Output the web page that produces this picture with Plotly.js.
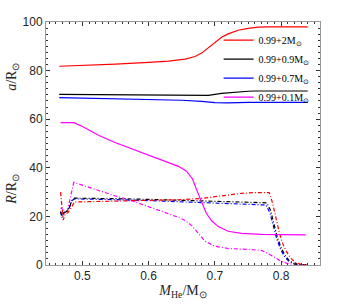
<!DOCTYPE html>
<html><head><meta charset="utf-8">
<script src="https://cdn.plot.ly/plotly-3.0.1.min.js"></script>
<style>html,body{margin:0;padding:0;background:#fff}#c{width:354px;height:304px}</style>
</head><body><div id="c"></div>
<script>
// Legend labels
const labels = ['0.99+2M<sub>⊙</sub>', '0.99+0.9M<sub>⊙</sub>', '0.99+0.7M<sub>⊙</sub>', '0.99+0.1M<sub>⊙</sub>'];
const colors = ['#ff0000', '#000000', '#0000ff', '#ff00ff'];

// Orbital separation a (solid lines)
const aRedX = [0.465, 0.50, 0.55, 0.60, 0.63, 0.655, 0.67, 0.68, 0.69, 0.70, 0.71, 0.72, 0.735, 0.75, 0.765, 0.78, 0.84];
const aRedY = [81.8, 82.1, 82.7, 83.4, 83.9, 84.7, 85.8, 87.2, 89.4, 91.8, 93.7, 95.1, 96.6, 97.4, 97.9, 98.0, 98.0];
const aBlackX = [0.465, 0.55, 0.65, 0.69, 0.71, 0.73, 0.75, 0.76, 0.84];
const aBlackY = [70.2, 70.0, 69.8, 69.8, 70.6, 71.2, 71.5, 71.6, 71.6];
const aBlueX = [0.465, 0.55, 0.65, 0.68, 0.70, 0.72, 0.75, 0.84];
const aBlueY = [68.9, 68.4, 67.8, 67.3, 66.8, 66.7, 66.9, 66.9];
const aMagX = [0.467, 0.487, 0.50, 0.525, 0.55, 0.575, 0.60, 0.625, 0.645, 0.657, 0.666, 0.673, 0.68, 0.687, 0.695, 0.705, 0.72, 0.74, 0.77, 0.837];
const aMagY = [58.6, 58.6, 57.0, 53.3, 50.3, 47.8, 45.4, 42.9, 40.6, 38.6, 35.5, 30.5, 25.5, 21.3, 18.2, 15.8, 13.9, 13.0, 12.6, 12.4];

// Radius R (dash-dot lines)
const rRedX = [0.467, 0.469, 0.471, 0.474, 0.478, 0.483, 0.488, 0.50, 0.55, 0.60, 0.65, 0.68, 0.70, 0.72, 0.74, 0.76, 0.775, 0.782, 0.787, 0.792, 0.797, 0.802, 0.808, 0.815, 0.822, 0.83, 0.84];
const rRedY = [30.0, 25.0, 18.5, 21.0, 21.5, 23.5, 26.0, 26.0, 26.3, 26.6, 26.9, 27.4, 28.1, 28.9, 29.5, 29.8, 29.9, 29.8, 25.5, 19.0, 13.5, 9.0, 5.5, 2.6, 1.0, 0.3, 0.0];
const rBlackX = [0.467, 0.469, 0.472, 0.476, 0.480, 0.484, 0.488, 0.50, 0.55, 0.60, 0.65, 0.70, 0.74, 0.778, 0.784, 0.789, 0.794, 0.80, 0.806, 0.812, 0.82, 0.83, 0.84];
const rBlackY = [22.0, 20.0, 21.5, 22.0, 23.5, 26.5, 27.5, 27.5, 27.3, 27.0, 26.6, 26.1, 25.8, 25.6, 22.5, 17.0, 11.5, 7.0, 4.0, 1.8, 0.6, 0.1, 0.0];
const rBlueX = [0.467, 0.469, 0.472, 0.476, 0.480, 0.484, 0.488, 0.50, 0.55, 0.60, 0.65, 0.70, 0.74, 0.777, 0.783, 0.788, 0.793, 0.799, 0.805, 0.811, 0.82, 0.83, 0.84];
const rBlueY = [22.0, 19.5, 21.5, 22.0, 23.5, 26.5, 27.2, 27.2, 26.9, 26.5, 26.0, 25.3, 24.9, 24.7, 21.5, 16.5, 11.0, 6.5, 3.5, 1.6, 0.5, 0.1, 0.0];
const rMagX = [0.467, 0.470, 0.473, 0.477, 0.487, 0.50, 0.525, 0.55, 0.575, 0.60, 0.625, 0.645, 0.655, 0.665, 0.675, 0.685, 0.70, 0.72, 0.75, 0.77, 0.78, 0.79, 0.80, 0.81, 0.82, 0.83];
const rMagY = [23.5, 23.0, 21.5, 22.0, 34.0, 32.8, 30.5, 28.4, 26.4, 24.0, 21.6, 19.6, 18.3, 16.2, 13.0, 9.8, 7.7, 6.8, 6.4, 6.0, 4.8, 3.0, 1.5, 0.6, 0.2, 0.0];

const xTickVals = [0.5, 0.6, 0.7, 0.8];
const yTickVals = [0, 20, 40, 60, 80, 100];

const dashPat = '4px,2px,1px,2px';
function solid(x, y, i) {
  return {x: x, y: y, type: 'scatter', mode: 'lines', name: labels[i],
    line: {color: colors[i], width: 1.2}, showlegend: true};
}
function dashed(x, y, i) {
  return {x: x, y: y, type: 'scatter', mode: 'lines', showlegend: false, hoverinfo: 'skip',
    line: {color: colors[i], width: 1.2, dash: dashPat}};
}
const data = [
  dashed(rMagX, rMagY, 3),
  dashed(rBlueX, rBlueY, 2),
  dashed(rBlackX, rBlackY, 1),
  dashed(rRedX, rRedY, 0),
  solid(aRedX, aRedY, 0),
  solid(aBlackX, aBlackY, 1),
  solid(aBlueX, aBlueY, 2),
  solid(aMagX, aMagY, 3)
];

const tickFont = {family: 'Liberation Sans, Arial, sans-serif', size: 12, color: '#262626'};
const serif = 'Liberation Serif, Times New Roman, serif';
const layout = {
  width: 354, height: 304,
  margin: {l: 46, r: 34, t: 22, b: 39},
  paper_bgcolor: '#fff', plot_bgcolor: '#fff',
  showlegend: true,
  legend: {x: 0.63, y: 0.985, xanchor: 'left', yanchor: 'top', bgcolor: 'rgba(0,0,0,0)',
    font: {family: serif, size: 10, color: '#000'}, itemwidth: 30, tracegroupgap: 0},
  xaxis: {range: [0.445, 0.8586], tickvals: xTickVals, ticktext: xTickVals.map(v => v.toFixed(1)),
    showgrid: false, zeroline: false, showline: true, linecolor: '#999', linewidth: 1, mirror: 'allticks',
    ticks: 'inside', ticklen: 4, tickcolor: '#333', tickfont: tickFont,
    minor: {dtick: 0.01, tick0: 0, ticks: 'inside', ticklen: 2, tickcolor: '#333', showgrid: false},
    title: {text: '<i>M</i><sub>He</sub>/M<sub>⊙</sub>', font: {family: serif, size: 14, color: '#262626'}, standoff: 1}},
  yaxis: {range: [0, 100], tickvals: yTickVals, ticktext: yTickVals.map(String),
    showgrid: false, zeroline: false, showline: true, linecolor: '#999', linewidth: 1, mirror: 'allticks',
    ticks: 'inside', ticklen: 4, tickcolor: '#333', tickfont: tickFont,
    minor: {dtick: 2.5, tick0: 0, ticks: 'inside', ticklen: 2, tickcolor: '#333', showgrid: false}},
  annotations: [
    {text: '<i>a</i>/R<sub>⊙</sub>', xref: 'paper', yref: 'y', x: -0.12, y: 77.5, textangle: -90,
     showarrow: false, font: {family: serif, size: 14, color: '#262626'}, xanchor: 'center', yanchor: 'middle'},
    {text: '<i>R</i>/R<sub>⊙</sub>', xref: 'paper', yref: 'y', x: -0.12, y: 31, textangle: -90,
     showarrow: false, font: {family: serif, size: 14, color: '#262626'}, xanchor: 'center', yanchor: 'middle'}
  ]
};
Plotly.newPlot('c', data, layout, {staticPlot: true, displayModeBar: false});
</script>
</body></html>
